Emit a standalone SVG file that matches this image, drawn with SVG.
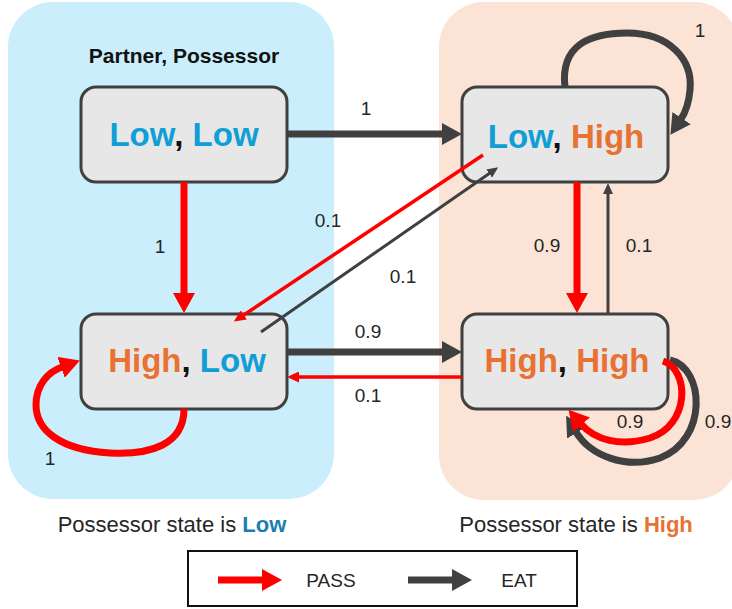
<svg xmlns="http://www.w3.org/2000/svg" width="732" height="609" viewBox="0 0 732 609">
  <style>
    .panel-low { fill: #CAEEFB; }
    .panel-high { fill: #FBE3D6; }
    .node rect { fill: #E7E7E7; stroke: #404040; stroke-width: 3; }
    .state { font-family: "Liberation Sans", Arial, sans-serif; font-size: 33px; font-weight: bold; text-anchor: middle; }
    .lo { fill: #0F9ED5; }
    .hi { fill: #E97132; }
    .sep { fill: #111111; }
    .lbl { font-family: "Liberation Sans", Arial, sans-serif; font-size: 19px; fill: #262626; text-anchor: middle; }
    .cap { font-family: "Liberation Sans", Arial, sans-serif; font-size: 22px; fill: #262626; text-anchor: middle; }
    .title { font-family: "Liberation Sans", Arial, sans-serif; font-size: 21px; font-weight: bold; fill: #111111; text-anchor: middle; }
    .pass-thick { fill: none; stroke: #FF0000; stroke-width: 7; }
    .eat-thick { fill: none; stroke: #404040; stroke-width: 7; }
    .pass-thin { fill: none; stroke: #FF0000; stroke-width: 3.5; }
    .eat-thin { fill: none; stroke: #404040; stroke-width: 3; }
  </style>
  <defs>
    <marker id="headPassBig" markerUnits="userSpaceOnUse" markerWidth="20" markerHeight="22" refX="1" refY="11" orient="auto">
      <path d="M0,0 L20,11 L0,22 z" fill="#FF0000"/>
    </marker>
    <marker id="headEatBig" markerUnits="userSpaceOnUse" markerWidth="20" markerHeight="22" refX="1" refY="11" orient="auto">
      <path d="M0,0 L20,11 L0,22 z" fill="#404040"/>
    </marker>
    <marker id="headPassSmall" markerUnits="userSpaceOnUse" markerWidth="12" markerHeight="11" refX="1" refY="5.5" orient="auto">
      <path d="M0,0 L12,5.5 L0,11 z" fill="#FF0000"/>
    </marker>
    <marker id="headEatSmall" markerUnits="userSpaceOnUse" markerWidth="11" markerHeight="10" refX="1" refY="5" orient="auto">
      <path d="M0,0 L11,5 L0,10 z" fill="#404040"/>
    </marker>
  </defs>

  <!-- background panels -->
  <rect class="panel-low" x="8" y="2" width="326" height="497" rx="45"/>
  <rect class="panel-high" x="439" y="2" width="300" height="498" rx="45"/>

  <text class="title" x="184" y="63">Partner, Possessor</text>

  <!-- state nodes -->
  <g id="node-low-low" class="node">
    <rect x="81" y="87" width="206" height="95" rx="15"/>
    <text class="state" x="184" y="146"><tspan class="lo">Low</tspan><tspan class="sep">, </tspan><tspan class="lo">Low</tspan></text>
  </g>
  <g id="node-low-high" class="node">
    <rect x="462" y="87" width="206" height="95" rx="15"/>
    <text class="state" x="566" y="148"><tspan class="lo">Low</tspan><tspan class="sep">, </tspan><tspan class="hi">High</tspan></text>
  </g>
  <g id="node-high-low" class="node">
    <rect x="81" y="314" width="206" height="95" rx="15"/>
    <text class="state" x="187" y="372"><tspan class="hi">High</tspan><tspan class="sep">, </tspan><tspan class="lo">Low</tspan></text>
  </g>
  <g id="node-high-high" class="node">
    <rect x="462" y="314" width="206" height="95" rx="15"/>
    <text class="state" x="567" y="372"><tspan class="hi">High</tspan><tspan class="sep">, </tspan><tspan class="hi">High</tspan></text>
  </g>

  <!-- connectors (drawn over the nodes) -->
  <g id="connectors">
    <path class="eat-thick" d="M287 134 H443" marker-end="url(#headEatBig)"/>
    <path class="pass-thick" d="M184 182 V294" marker-end="url(#headPassBig)"/>
    <path class="pass-thick" d="M577 182 V294" marker-end="url(#headPassBig)"/>
    <path class="eat-thin" d="M608 313 V193" marker-end="url(#headEatSmall)"/>
    <path class="eat-thick" d="M287 352 H443" marker-end="url(#headEatBig)"/>
    <path class="pass-thin" d="M462 377 H298" marker-end="url(#headPassSmall)"/>
    <path class="pass-thin" d="M483 155 L243 315.5" marker-end="url(#headPassSmall)"/>
    <path class="eat-thin" d="M261 332 L490 173" marker-end="url(#headEatSmall)"/>
    <!-- self loops -->
    <path class="eat-thick" d="M565 87 C560 45 590 33 627 33 C670 33 693 60 690 90 C689 101 687 110 681 119" marker-end="url(#headEatBig)"/>
    <path class="pass-thick" d="M184 409 C184 445 150 455 110 453 C60 450 36 430 36 405 C36 385 48 372 62 367" marker-end="url(#headPassBig)"/>
    <path class="eat-thick" d="M670 360 C705 368 708 440 660 458 C625 470 590 455 576 432" marker-end="url(#headEatBig)"/>
    <path class="pass-thick" d="M663 361 C690 370 690 425 650 438 C620 447 595 440 581 424" marker-end="url(#headPassBig)"/>

    <text class="lbl" x="366" y="115">1</text>
    <text class="lbl" x="160" y="253">1</text>
    <text class="lbl" x="547" y="252">0.9</text>
    <text class="lbl" x="639" y="252">0.1</text>
    <text class="lbl" x="368" y="338">0.9</text>
    <text class="lbl" x="368" y="402">0.1</text>
    <text class="lbl" x="328" y="227">0.1</text>
    <text class="lbl" x="403" y="283">0.1</text>
    <text class="lbl" x="700" y="37">1</text>
    <text class="lbl" x="50" y="465">1</text>
    <text class="lbl" x="630" y="428">0.9</text>
    <text class="lbl" x="718" y="428">0.9</text>
  </g>

  <!-- panel captions -->
  <text class="cap" x="172" y="532">Possessor state is <tspan font-weight="bold" fill="#1A7FB0">Low</tspan></text>
  <text class="cap" x="576" y="532">Possessor state is <tspan font-weight="bold" fill="#E97132">High</tspan></text>

  <!-- legend -->
  <g id="legend">
    <rect x="188" y="551" width="389" height="55" fill="#FFFFFF" stroke="#111111" stroke-width="2"/>
    <path d="M218 580 H263" stroke="#FF0000" stroke-width="7" marker-end="url(#headPassBig)"/>
    <text class="lbl" x="331" y="587" font-size="20">PASS</text>
    <path d="M408 580 H453" stroke="#404040" stroke-width="7" marker-end="url(#headEatBig)"/>
    <text class="lbl" x="519" y="587" font-size="20">EAT</text>
  </g>
</svg>
